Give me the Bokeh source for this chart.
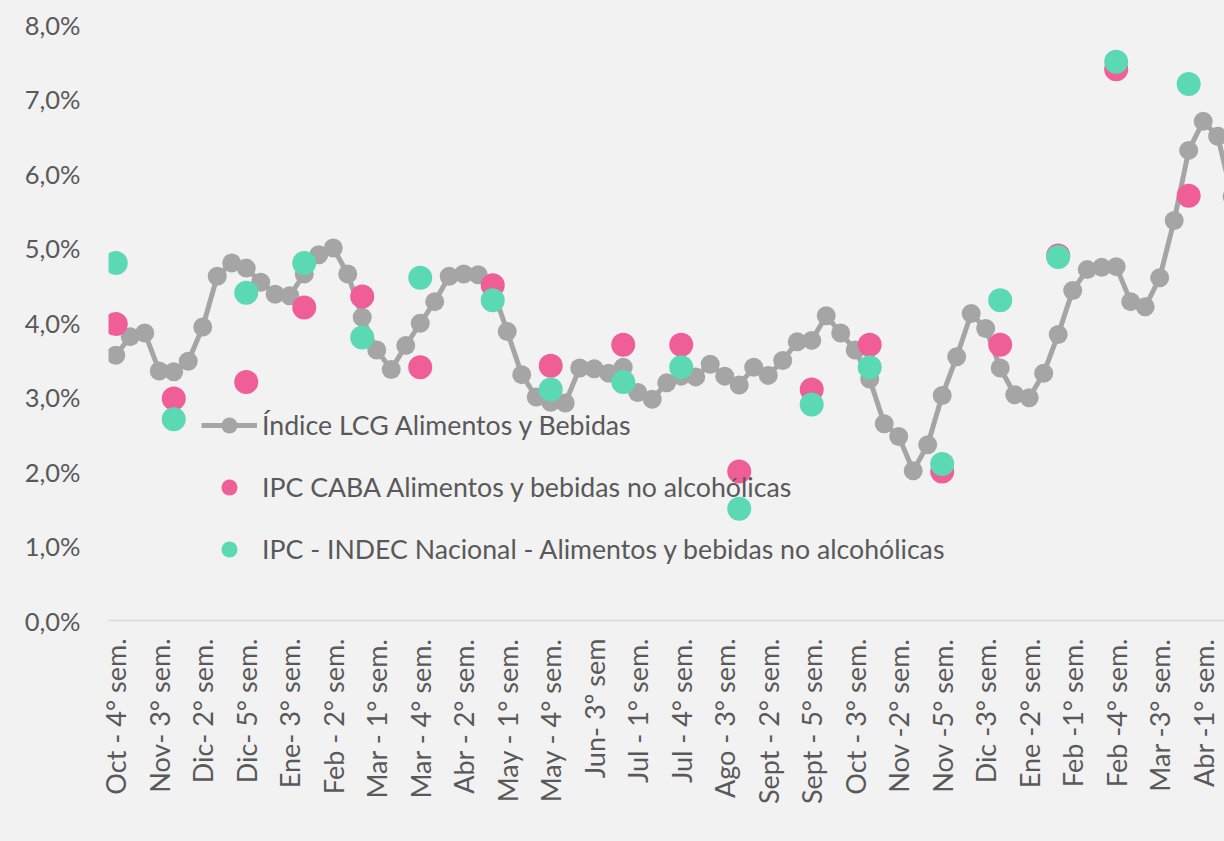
from bokeh.plotting import figure
from bokeh.models import (ColumnDataSource, FixedTicker, Legend, LegendItem,
                          Range1d, GlobalInlineStyleSheet)
from bokeh.embed import file_html
from bokeh.resources import INLINE
from math import pi

# ---------------- data ----------------
tick_labels = [
    "Oct - 4° sem.", "Nov- 3° sem.", "Dic- 2° sem.", "Dic- 5° sem.",
    "Ene- 3° sem.", "Feb - 2° sem.", "Mar - 1° sem.", "Mar - 4° sem.",
    "Abr - 2° sem.", "May - 1° sem.", "May - 4° sem.", "Jun- 3º sem",
    "Jul - 1° sem.", "Jul - 4° sem.", "Ago - 3° sem.", "Sept - 2° sem.",
    "Sept - 5° sem.", "Oct - 3° sem.", "Nov -2° sem.", "Nov -5° sem.",
    "Dic -3° sem.", "Ene -2° sem.", "Feb -1° sem.", "Feb -4° sem.",
    "Mar -3° sem.", "Abr -1° sem.",
]

# Índice LCG Alimentos y Bebidas (weekly, %)
lcg = [
    3.56, 3.81, 3.86, 3.35, 3.34, 3.48, 3.94, 4.62, 4.80, 4.73,
    4.54, 4.38, 4.36, 4.65, 4.91, 5.00, 4.65, 4.07, 3.63, 3.37,
    3.69, 3.99, 4.28, 4.62, 4.65, 4.64, 4.45, 3.88, 3.30, 3.00,
    2.93, 2.92, 3.39, 3.38, 3.32, 3.40, 3.06, 2.97, 3.19, 3.28,
    3.27, 3.44, 3.28, 3.16, 3.40, 3.29, 3.49, 3.74, 3.76, 4.09,
    3.86, 3.63, 3.24, 2.64, 2.47, 2.01, 2.36, 3.02, 3.54, 4.12,
    3.92, 3.39, 3.03, 2.99, 3.32, 3.84, 4.43, 4.71, 4.74, 4.75,
    4.28, 4.21, 4.60, 5.37, 6.31, 6.70, 6.50, 5.69,
]

# week (position in the weekly series) at which each monthly value is shown
mes_semana = [0, 4, 9, 13, 17, 21, 26, 30, 35, 39, 43, 48, 52, 57, 61, 65, 69, 74]
ipc_caba = [3.98, 2.98, 3.20, 4.20, 4.35, 3.40, 4.50, 3.42, 3.70, 3.70,
            2.00, 3.10, 3.70, 2.00, 3.70, 4.90, 7.40, 5.70]
ipc_indec = [4.80, 2.70, 4.40, 4.80, 3.80, 4.60, 4.30, 3.10, 3.20, 3.40,
             1.50, 2.90, 3.40, 2.10, 4.30, 4.88, 7.50, 7.20]

y_ticks = [0, 1, 2, 3, 4, 5, 6, 7, 8]
y_tick_labels = ["0,0%", "1,0%", "2,0%", "3,0%", "4,0%", "5,0%", "6,0%", "7,0%", "8,0%"]

# ---------------- style ----------------
FONT = "Lato"
TEXT = "#595959"
BG = "#F2F2F2"
GREY = "#A5A5A5"
PINK = "#F05E98"
GREEN = "#5AD9B4"

weeks = list(range(len(lcg)))
tick_pos = weeks[::3][:len(tick_labels)]

p = figure(width=1224, height=841, output_backend="svg", toolbar_location=None,
           x_range=Range1d(-0.5, 76.47), y_range=Range1d(0, 8),
           min_border_left=108, min_border_right=0, min_border_top=24,
           min_border_bottom=221)
p.background_fill_color = BG
p.border_fill_color = BG
p.outline_line_color = None
p.xgrid.grid_line_color = None
p.ygrid.grid_line_color = None

src_line = ColumnDataSource(dict(x=weeks, y=lcg))
r_line = p.line("x", "y", source=src_line, line_color=GREY, line_width=5)
r_pts = p.scatter("x", "y", source=src_line, size=19, fill_color=GREY, line_color=None)

src_caba = ColumnDataSource(dict(x=mes_semana, y=ipc_caba))
r_caba = p.scatter("x", "y", source=src_caba, size=24, fill_color=PINK, line_color=None)
src_indec = ColumnDataSource(dict(x=mes_semana, y=ipc_indec))
r_indec = p.scatter("x", "y", source=src_indec, size=24, fill_color=GREEN, line_color=None)

# y axis
p.yaxis.ticker = FixedTicker(ticks=y_ticks)
p.yaxis.major_label_overrides = {t: l for t, l in zip(y_ticks, y_tick_labels)}
p.yaxis.axis_line_color = None
p.yaxis.major_tick_line_color = None
p.yaxis.minor_tick_line_color = None
p.yaxis.major_tick_out = 0
p.yaxis.major_label_standoff = 28
p.yaxis.major_label_text_font = FONT
p.yaxis.major_label_text_font_size = "25.5px"
p.yaxis.major_label_text_color = TEXT

# x axis
p.xaxis.ticker = FixedTicker(ticks=tick_pos)
p.xaxis.major_label_overrides = {t: l for t, l in zip(tick_pos, tick_labels)}
p.xaxis.axis_line_color = "#D9D9D9"
p.xaxis.axis_line_width = 1.5
p.xaxis.major_tick_line_color = None
p.xaxis.minor_tick_line_color = None
p.xaxis.major_tick_out = 0
p.xaxis.major_label_orientation = pi / 2
p.xaxis.major_label_standoff = 18
p.xaxis.major_label_text_font = FONT
p.xaxis.major_label_text_font_size = "27px"
p.xaxis.major_label_text_color = TEXT

legend = Legend(items=[
    LegendItem(label="Índice LCG Alimentos y Bebidas", renderers=[r_line, r_pts]),
    LegendItem(label="IPC CABA Alimentos y bebidas no alcohólicas", renderers=[r_caba]),
    LegendItem(label="IPC - INDEC Nacional - Alimentos y bebidas no alcohólicas", renderers=[r_indec]),
], location=(93, 51), orientation="vertical",
    glyph_width=56, glyph_height=40, spacing=22, label_standoff=5,
    padding=0, margin=0,
    label_text_font=FONT, label_text_font_size="26.7px", label_text_color=TEXT,
    background_fill_alpha=0, border_line_color=None)
p.add_layout(legend, "center")

p.stylesheets = [GlobalInlineStyleSheet(css="body { background: #F2F2F2; }")]

open("out.html", "w").write(file_html(p, INLINE))
